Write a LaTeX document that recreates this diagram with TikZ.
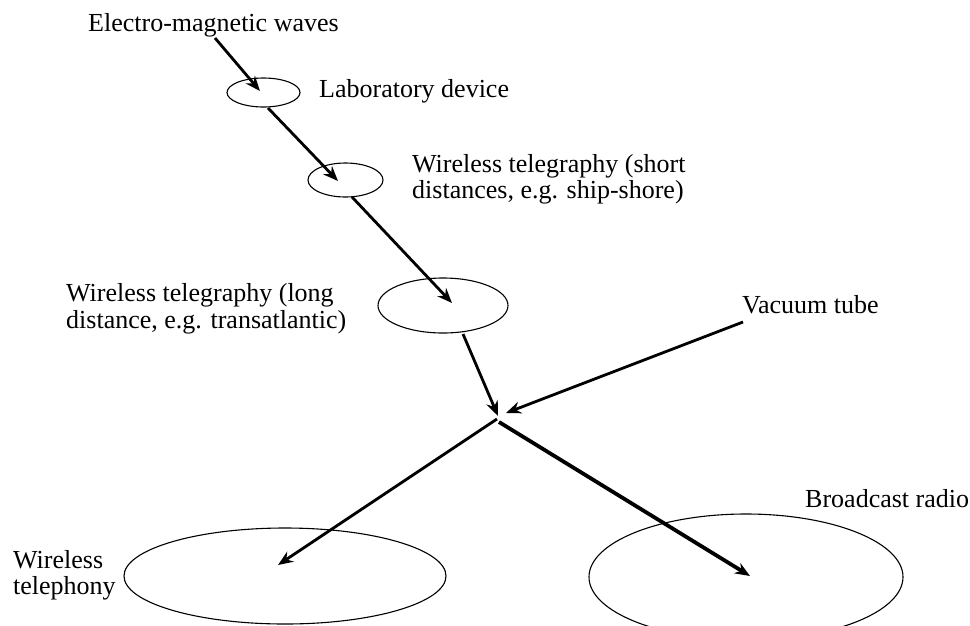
\documentclass[tikz,border=0pt]{standalone}
\usepackage{fontspec}
\setmainfont{Liberation Serif}
\usetikzlibrary{arrows.meta,shapes.geometric}
\tikzset{
  lbl/.style={inner sep=0pt, anchor=base west, font=\fontsize{26}{26.5}\selectfont},
  oval/.style={draw, ellipse, line width=1.1pt, inner sep=0pt},
  flow/.style={line width=2.8pt, -{Stealth[length=15pt,width=12pt,inset=5pt]}},
  flowthick/.style={flow, line width=3.8pt},
  link/.style={line width=2.8pt}
}
\newcommand{\twolines}[2]{\begin{tabular}[t]{@{}l@{}}#1\\#2\end{tabular}}
\begin{document}
\begin{tikzpicture}[x=1pt,y=-1pt]
\useasboundingbox (0,0) rectangle (970,625);
% labels
\node[lbl] (em) at (88,31.7) {Electro-magnetic waves};
\node[lbl] (lab) at (319,97) {Laboratory device};
\node[lbl] (wts) at (412,172) {\twolines{Wireless telegraphy (short}{distances, e.g. ship-shore)}};
\node[lbl] (wtl) at (66,301.7) {\twolines{Wireless telegraphy (long}{distance, e.g. transatlantic)}};
\node[lbl] (vt) at (742,313) {Vacuum tube};
\node[lbl] (br) at (805,507) {Broadcast radio};
\node[lbl] (wtp) at (13,568) {\twolines{Wireless}{telephony}};
% ovals
\node[oval, minimum width=73pt, minimum height=29pt] (e1) at (263.5,92.5) {};
\node[oval, minimum width=75pt, minimum height=34pt] (e2) at (345.5,180) {};
\node[oval, minimum width=130pt, minimum height=55pt] (e3) at (443,305.5) {};
\node[oval, minimum width=322pt, minimum height=96pt] (e4) at (285,576) {};
\node[oval, minimum width=314pt, minimum height=126pt] (e5) at (746,577) {};
% connector end points
\coordinate (s1) at (215,38);
\coordinate (t1) at (260,91);
\coordinate (s2) at (268,108);
\coordinate (t2) at (338,181);
\coordinate (s3) at (352,197);
\coordinate (t3) at (452,303);
\coordinate (s4) at (463,334);
\coordinate (j) at (498,416);
\coordinate (s5) at (743,322);
\coordinate (t5) at (506,413);
\coordinate (jl) at (497,419);
\coordinate (jr) at (499,422);
\coordinate (t6) at (278,565);
\coordinate (t7) at (750,576);
% connectors
\draw[flow] (s1) -- (t1);
\draw[flow] (s2) -- (t2);
\draw[flow] (s3) -- (t3);
\draw[flow] (s4) -- (j);
\draw[flow] (s5) -- (t5);
\draw[flow] (jl) -- (t6);
\draw[flowthick] (jr) -- (t7);
\end{tikzpicture}
\end{document}
